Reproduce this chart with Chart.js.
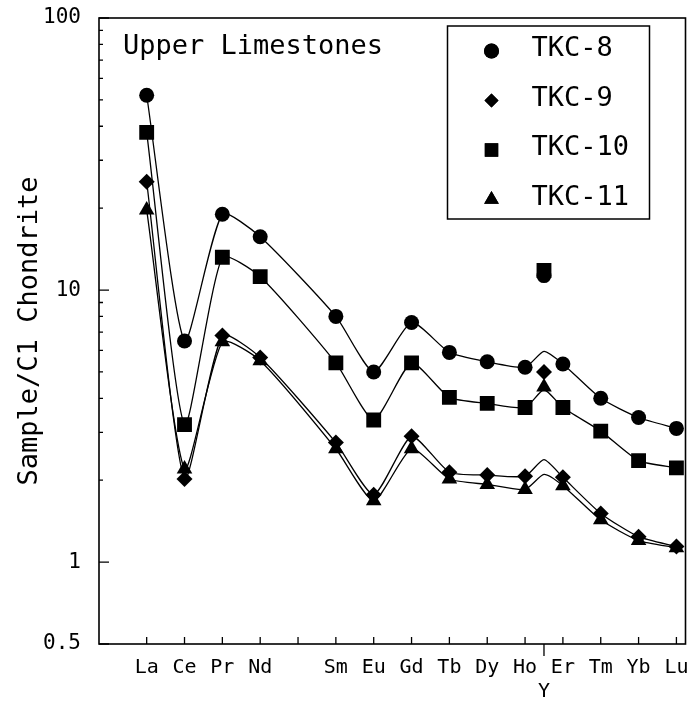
<!DOCTYPE html>
<html>
<head>
<meta charset="utf-8">
<script src="https://cdn.jsdelivr.net/npm/chart.js@4.4.0/dist/chart.umd.min.js"></script>
<style>
  body { margin: 0; background: #fff; }
  #wrap { width: 696px; height: 707px; }
</style>
</head>
<body>
<div id="wrap"><canvas id="reeChart" width="696" height="707"></canvas></div>
<script>
// x slots 1..15, Pm keeps its slot but has no label and no data
const xLabels = ['La', 'Ce', 'Pr', 'Nd', '', 'Sm', 'Eu', 'Gd', 'Tb', 'Dy', 'Ho', 'Er', 'Tm', 'Yb', 'Lu'];
const yttriumLabel = 'Y';
const yttriumSlot = 11.5;

const seriesNames = ['TKC-8', 'TKC-9', 'TKC-10', 'TKC-11'];
const seriesStyles = ['circle', 'rectRot', 'rect', 'triangle'];

// sample / C1 chondrite
const tkc8  = [52, 6.5, 19, 15.7, null, 8.0, 5.0, 7.6, 5.9, 5.45, 5.2, 5.35, 4.0, 3.4, 3.1];
const tkc9  = [25, 2.02, 6.8, 5.65, null, 2.75, 1.77, 2.9, 2.14, 2.09, 2.07, 2.05, 1.51, 1.24, 1.14];
const tkc10 = [38, 3.2, 13.2, 11.2, null, 5.4, 3.33, 5.4, 4.03, 3.83, 3.7, 3.7, 3.03, 2.36, 2.22];
const tkc11 = [19.7, 2.2, 6.45, 5.5, null, 2.61, 1.68, 2.61, 2.02, 1.93, 1.85, 1.91, 1.43, 1.2, 1.13];

// Y marker values and where each curve passes the Y slot
const yttriumMarkers = [11.3, 5.0, 11.8, 4.4];
const yttriumCurve = [5.95, 2.38, 4.3, 2.1];

const yTickValues = [0.5, 1, 2, 3, 4, 5, 6, 7, 8, 9, 10, 20, 30, 40, 50, 60, 70, 80, 90, 100];
const yTickLabels = { 0.5: '0.5', 1: '1', 10: '10', 100: '100' };

const allSeries = [tkc8, tkc9, tkc10, tkc11];
const monoFont = '"DejaVu Sans Mono", "Liberation Mono", monospace';

function points(values) {
    return values.map((v, i) => ({ x: i + 1, y: v })).filter(p => p.y !== null);
}

const markerSets = allSeries.map((vals, k) => ({
    label: seriesNames[k],
    data: points(vals).concat([{ x: yttriumSlot, y: yttriumMarkers[k] }]),
    showLine: false,
    pointStyle: seriesStyles[k],
    pointRadius: [7.5, 8, 10.5, 9][k],
    pointBackgroundColor: '#000',
    pointBorderColor: '#000',
    pointBorderWidth: 0
}));

const curveSets = allSeries.map((vals, k) => ({
    label: seriesNames[k] + ' curve',
    data: points(vals).concat([{ x: yttriumSlot, y: yttriumCurve[k] }]).sort((a, b) => a.x - b.x),
    showLine: true,
    pointRadius: 0,
    borderColor: '#000',
    borderWidth: 1.3,
    tension: 0.2
}));

// frame, inward ticks, panel title and boxed legend
const decorations = {
    id: 'decorations',
    afterDraw(chart) {
        const ctx = chart.ctx;
        const ca = chart.chartArea;
        const xs = chart.scales.x;
        const ys = chart.scales.y;
        ctx.save();
        ctx.strokeStyle = '#000';
        ctx.lineWidth = 1.6;
        ctx.strokeRect(ca.left, ca.top, ca.right - ca.left, ca.bottom - ca.top);

        ctx.lineWidth = 1.3;
        ctx.beginPath();
        yTickValues.forEach(v => {
            const py = ys.getPixelForValue(v);
            const len = yTickLabels[v] ? 10 : 4;
            ctx.moveTo(ca.left, py);
            ctx.lineTo(ca.left + len, py);
        });
        xLabels.forEach((_, i) => {
            const px = xs.getPixelForValue(i + 1);
            ctx.moveTo(px, ca.bottom);
            ctx.lineTo(px, ca.bottom - 7);
        });
        const yx = xs.getPixelForValue(yttriumSlot);
        ctx.moveTo(yx, ca.bottom);
        ctx.lineTo(yx, ca.bottom + 12);
        ctx.stroke();

        ctx.fillStyle = '#000';
        ctx.font = '27px ' + monoFont;
        ctx.textBaseline = 'middle';
        ctx.fillText('Upper Limestones', ca.left + 24, ca.top + 29);

        // legend box
        const bx = ca.right - 238, by = ca.top + 8, bw = 202, bh = 193;
        ctx.lineWidth = 1.5;
        ctx.strokeRect(bx, by, bw, bh);
        seriesNames.forEach((name, k) => {
            const cy = by + 23 + k * 49.5;
            Chart.helpers.drawPoint(ctx, {
                pointStyle: seriesStyles[k],
                radius: [7.5, 7, 9.5, 8.5][k],
                rotation: 0,
                borderWidth: 0
            }, bx + 44, cy + 2);
            ctx.fill();
            ctx.fillText(name, bx + 84, cy);
        });
        ctx.restore();
    }
};

new Chart(document.getElementById('reeChart'), {
    type: 'scatter',
    data: { datasets: markerSets.concat(curveSets) },
    options: {
        responsive: false,
        animation: false,
        layout: { padding: { top: 18, right: 7, left: 0, bottom: 0 } },
        plugins: {
            legend: { display: false },
            tooltip: { enabled: false }
        },
        scales: {
            x: {
                type: 'linear',
                min: -0.26,
                max: 15.24,
                afterBuildTicks: scale => {
                    scale.ticks = xLabels.map((_, i) => ({ value: i + 1 }))
                        .concat([{ value: yttriumSlot }]);
                },
                afterFit: scale => {
                    scale.height = 63;
                    scale.paddingLeft = 0;
                    scale.paddingRight = 0;
                },
                grid: { display: false, drawTicks: false },
                border: { display: false },
                ticks: {
                    autoSkip: false,
                    maxRotation: 0,
                    padding: 12,
                    color: '#000',
                    font: { family: monoFont, size: 20 },
                    callback: value => {
                        if (value === yttriumSlot) return ['', yttriumLabel];
                        return xLabels[value - 1] || '';
                    }
                }
            },
            y: {
                type: 'logarithmic',
                min: 0.5,
                max: 100,
                afterBuildTicks: scale => {
                    scale.ticks = yTickValues.map(v => ({ value: v }));
                },
                afterFit: scale => {
                    scale.width = 99;
                    scale.paddingTop = 0;
                    scale.paddingBottom = 0;
                },
                grid: { display: false, drawTicks: false },
                border: { display: false },
                title: {
                    display: true,
                    text: 'Sample/C1 Chondrite',
                    color: '#000',
                    font: { family: monoFont, size: 27 },
                    padding: { top: 14, bottom: 0 }
                },
                ticks: {
                    autoSkip: false,
                    padding: 18,
                    color: '#000',
                    font: { family: monoFont, size: 21 },
                    callback: value => yTickLabels[value] || ''
                }
            }
        }
    },
    plugins: [decorations]
});
</script>
</body>
</html>
